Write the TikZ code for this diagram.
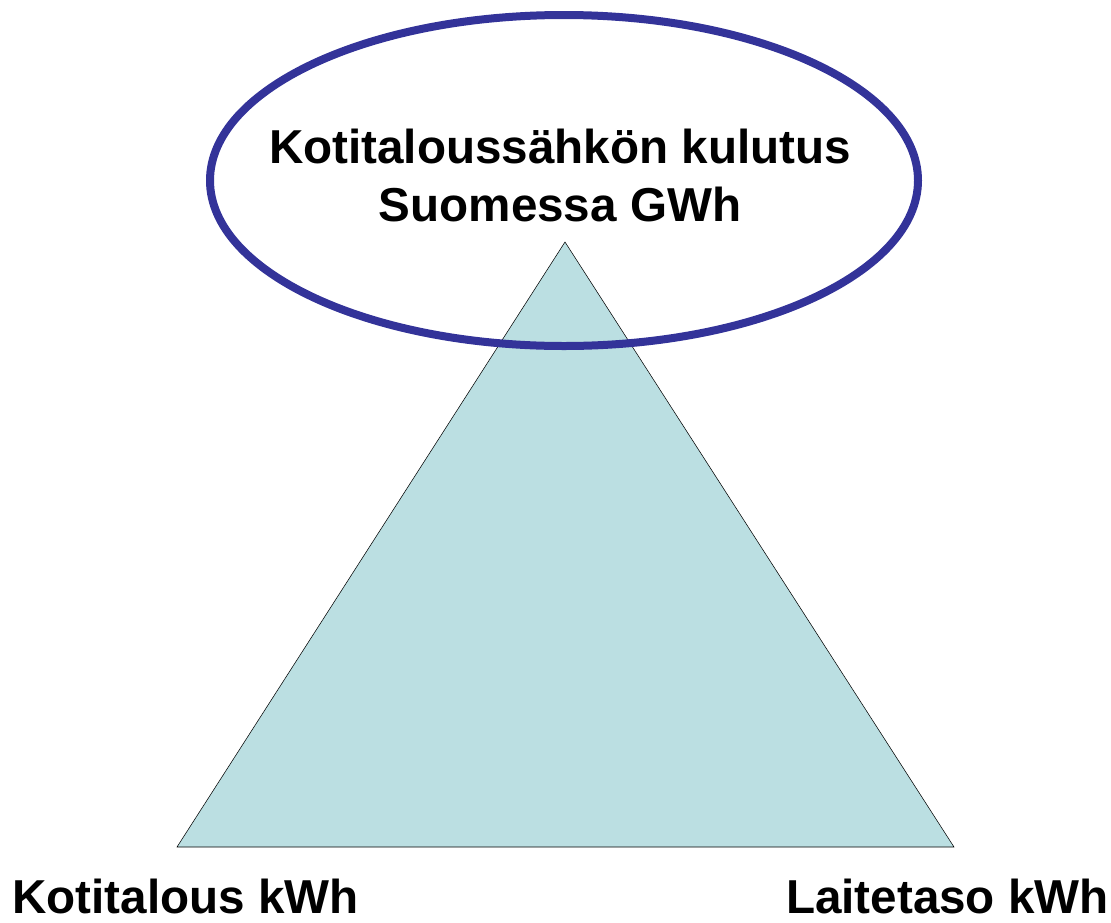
\documentclass[tikz,border=0pt]{standalone}
\usepackage{fontspec}
\setmainfont{Liberation Sans}
\usepackage{tikz}
\definecolor{ringblue}{HTML}{333399}
\definecolor{pyrfill}{HTML}{BBDFE2}

\begin{document}
\begin{tikzpicture}[x=0.75pt,y=-0.75pt]
\tikzstyle{every node}+=[inner sep=0pt]
\tikzstyle{bigtext}=[font=\fontsize{35.7}{42}\selectfont\bfseries,anchor=base]
\tikzstyle{cornertext}=[font=\fontsize{35.7}{42}\selectfont\bfseries,text depth=0pt]
\useasboundingbox (0,0) rectangle (1111,922);
\coordinate (top) at (565,242);
\coordinate (left) at (177,847);
\coordinate (right) at (954,847);
\draw [black, fill=pyrfill] (top) -- (left) -- (right) -- cycle;
\draw [ringblue, line width=6pt] (564,180.5) ellipse (354 and 165.5);
\node [bigtext] (title1) at (560,163) {Kotitaloussähkön kulutus};
\node [bigtext] (title2) at (560,221) {Suomessa GWh};
\node [cornertext, anchor=base west] (house) at (12,913.5) {Kotitalous kWh};
\node [cornertext, anchor=base east] (device) at (1109,913.5) {Laitetaso kWh};
\end{tikzpicture}
\end{document}
